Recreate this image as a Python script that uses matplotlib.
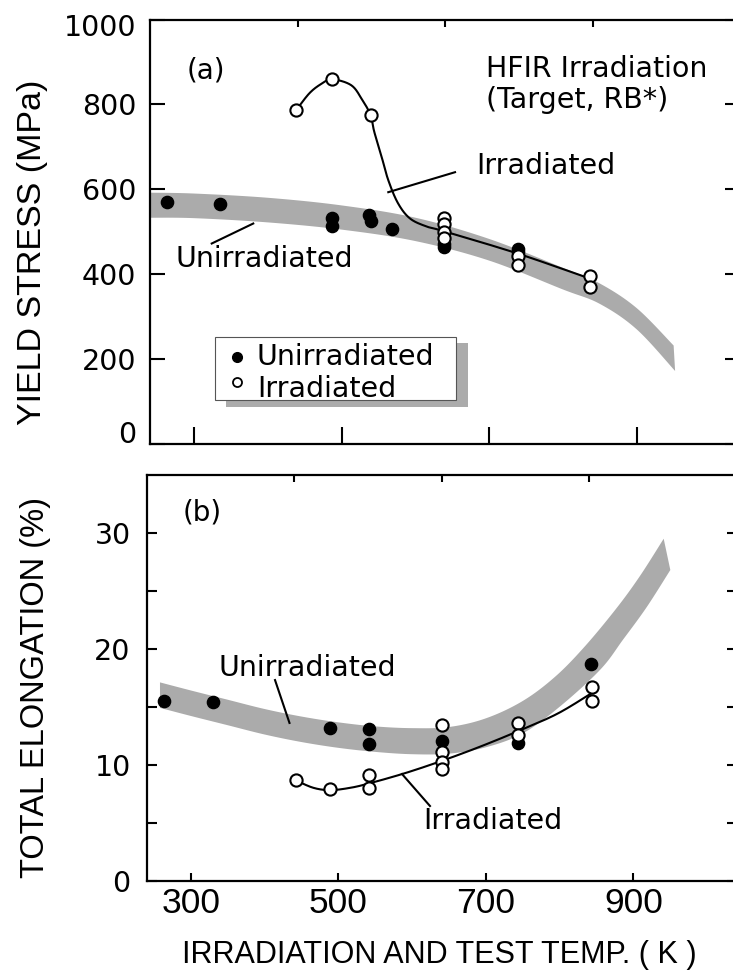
import numpy as np
import matplotlib
matplotlib.use("Agg")
import matplotlib.pyplot as plt
from matplotlib.patches import Rectangle
from matplotlib.ticker import FixedLocator
from matplotlib.transforms import ScaledTranslation

plt.rcParams['font.family'] = ['DejaVu Sans']
NARROW = ['Liberation Sans', 'DejaVu Sans']

# ---------------- data ----------------
temp_ticks = [300, 500, 700, 900]
top_ticks = [440, 640, 840]

# (a) yield stress (MPa)
ys_unirr_T = [263, 335, 487, 487, 537, 539, 568, 638, 638, 739, 739]
ys_unirr_V = [569, 566, 533, 514, 539, 525, 506, 470, 464, 459, 452]
ys_irr_T = [438, 487, 539, 638, 638, 638, 638, 739, 739, 836, 836]
ys_irr_V = [786, 859, 775, 533, 518, 500, 486, 442, 421, 395, 369]
ys_fit_T = [438, 456, 472, 487, 513, 528, 539, 544, 554, 563, 576, 592, 614, 639, 738, 836]
ys_fit_V = [786, 826, 848, 859, 845, 810, 775, 736, 677, 622, 568, 532, 513, 501, 449, 390]
ys_band_T = [240, 300, 400, 500, 600, 700, 800, 850, 900, 950]
ys_band_hi = [592, 590, 580, 562, 533, 483, 415, 378, 320, 232]
ys_band_lo = [533, 532, 522, 505, 478, 432, 364, 330, 270, 172]

# (b) total elongation (%)
te_unirr_T = [264, 330, 489, 541, 541, 640, 744, 843]
te_unirr_E = [15.5, 15.4, 13.15, 13.1, 11.8, 12.0, 11.9, 18.7]
te_irr_T = [442, 489, 541, 541, 640, 640, 640, 640, 744, 744, 844, 844]
te_irr_E = [8.65, 7.9, 9.07, 8.0, 13.4, 11.1, 10.2, 9.6, 13.6, 12.6, 16.7, 15.5]
te_fit_T = [442, 466, 489, 516, 541, 589, 639, 690, 744, 797, 844]
te_fit_E = [8.65, 8.0, 7.8, 8.0, 8.37, 9.24, 10.3, 11.5, 12.9, 14.4, 16.2]
te_band_hi_T = [258, 300, 350, 400, 450, 500, 550, 600, 650, 700, 750, 794, 834, 877, 909, 941]
te_band_hi = [17.1, 16.4, 15.6, 14.8, 14.15, 13.65, 13.3, 13.15, 13.25, 14.0, 15.5, 17.6, 20.2, 23.5, 26.3, 29.5]
te_band_lo_T = [258, 300, 350, 400, 450, 500, 550, 600, 650, 700, 750, 800, 855, 886, 918, 950]
te_band_lo = [14.9, 14.2, 13.4, 12.6, 11.95, 11.45, 11.1, 10.9, 10.95, 11.5, 12.7, 15.0, 18.2, 20.8, 23.6, 26.8]

BAND = '#ababab'


def catmull(xs, ys, n=24):
    P = np.column_stack([xs, ys]).astype(float)
    P = np.vstack([P[0], P, P[-1]])
    out = []
    t = np.linspace(0, 1, n, endpoint=False)[:, None]
    for i in range(1, len(P) - 2):
        p0, p1, p2, p3 = P[i - 1], P[i], P[i + 1], P[i + 2]
        pts = 0.5 * ((2 * p1) + (-p0 + p2) * t + (2 * p0 - 5 * p1 + 4 * p2 - p3) * t ** 2
                     + (-p0 + 3 * p1 - 3 * p2 + p3) * t ** 3)
        out.append(pts)
    out.append(P[-2][None, :])
    R = np.vstack(out)
    return R[:, 0], R[:, 1]


def band(ax, Tu, U, Tl, L):
    xu, yu = catmull(Tu, U)
    xl, yl = catmull(Tl, L)
    ax.fill(np.concatenate([xu, xl[::-1]]), np.concatenate([yu, yl[::-1]]),
            color=BAND, lw=0, zorder=1)


fig = plt.figure(figsize=(7.33, 9.76), dpi=100)
ax1 = fig.add_axes([150 / 733, 1 - 444 / 976, 590 / 733, 424.5 / 976])
ax2 = fig.add_axes([146.7 / 733, 1 - 880.5 / 976, 590 / 733, 405.5 / 976])

mk = dict(ms=8.8, ls='none', zorder=5)

# ----- panel (a) -----
band(ax1, ys_band_T, ys_band_hi, ys_band_T[:-1] + [952], ys_band_lo)
fx, fy = catmull(ys_fit_T, ys_fit_V)
ax1.plot(fx, fy, color='k', lw=1.5, zorder=3)
ax1.plot(ys_unirr_T, ys_unirr_V, marker='o', color='k', **mk)
ax1.plot(ys_irr_T, ys_irr_V, marker='o', mfc='white', mec='k', mew=1.5, **mk)
ax1.set_ylim(0, 1000)
ax1.yaxis.set_major_locator(FixedLocator([0, 200, 400, 600, 800, 1000]))

ax1.text(290, 861, '(a)', fontsize=20, ha='left', va='baseline')
ax1.text(695.6, 864.6, 'HFIR Irradiation', fontsize=20.5, ha='left', va='baseline')
ax1.text(695.6, 792, '(Target, RB*)', fontsize=20.5, ha='left', va='baseline')
ax1.text(683, 637, 'Irradiated', fontsize=20.5, ha='left', va='baseline')
ax1.plot([653.6, 563.1], [640.3, 593.2], color='k', lw=1.5, zorder=4)
ax1.text(273.9, 417.4, 'Unirradiated', fontsize=20.5, ha='left', va='baseline')
ax1.plot([323.7, 380], [472.3, 519.4], color='k', lw=1.5, zorder=4)

# legend (hand-built, with dropped shadow)
ax1.add_patch(Rectangle((0.1288, 0.0872), 0.4102, 0.1507, transform=ax1.transAxes,
                        color=BAND, lw=0, zorder=6))
ax1.add_patch(Rectangle((0.1102, 0.1037), 0.4084, 0.1484, transform=ax1.transAxes,
                        fc='white', ec='#555555', lw=0.8, zorder=7))
ax1.plot([0.147], [0.2057], marker='o', ms=7, color='k', ls='none',
         transform=ax1.transAxes, zorder=8)
ax1.plot([0.147], [0.1468], marker='o', ms=6.5, mfc='white', mec='k', mew=1.3, ls='none',
         transform=ax1.transAxes, zorder=8)
ax1.text(0.181, 0.2372, 'Unirradiated\nIrradiated', transform=ax1.transAxes,
         fontsize=20.5, va='top', ha='left', linespacing=1.15, zorder=8)

# ----- panel (b) -----
band(ax2, te_band_hi_T, te_band_hi, te_band_lo_T, te_band_lo)
fx, fy = catmull(te_fit_T, te_fit_E)
ax2.plot(fx, fy, color='k', lw=1.5, zorder=3)
ax2.plot(te_unirr_T, te_unirr_E, marker='o', color='k', **mk)
ax2.plot(te_irr_T, te_irr_E, marker='o', mfc='white', mec='k', mew=1.5, **mk)
ax2.set_ylim(0, 35)
ax2.yaxis.set_major_locator(FixedLocator([0, 10, 20, 30]))
ax2.yaxis.set_minor_locator(FixedLocator([5, 15, 25]))

ax2.text(289, 31.03, '(b)', fontsize=20, ha='left', va='baseline')
ax2.text(337, 17.65, 'Unirradiated', fontsize=20.5, ha='left', va='baseline')
ax2.plot([414, 433.6], [17.3, 13.6], color='k', lw=1.5, zorder=4)
ax2.text(614.6, 4.45, 'Irradiated', fontsize=20.5, ha='left', va='baseline')
ax2.plot([586.2, 624.1], [9.19, 6.43], color='k', lw=1.5, zorder=4)

# ----- axes styling -----
for ax, ylen, blen, ypad in ((ax1, 11, 12, 10), (ax2, 7.5, 6, 11.5)):
    for s in ax.spines.values():
        s.set_linewidth(1.6)
    ax.set_xlim(240, 1040)
    ax.xaxis.set_major_locator(FixedLocator(temp_ticks))
    ax.xaxis.set_minor_locator(FixedLocator(top_ticks))
    ax.tick_params(axis='x', which='major', direction='in', length=blen, width=1.5,
                   bottom=True, top=False)
    ax.tick_params(axis='x', which='minor', direction='in', length=5, width=1.5,
                   bottom=False, top=True, labelbottom=False)
    ax.tick_params(axis='y', which='both', direction='in', length=ylen, width=1.5,
                   left=True, right=True, labelsize=20.5, pad=ypad)

ax1.tick_params(axis='x', which='major', labelbottom=False)
ax2.tick_params(axis='x', which='major', labelbottom=True, pad=5)
for lab in ax2.get_xticklabels():
    lab.set_fontfamily(NARROW)
    lab.set_fontsize(25.5)

# nudge the end labels of panel (a) inward, as in the original
yt = ax1.yaxis.get_major_ticks()
yt[0].label1.set_transform(yt[0].label1.get_transform()
                           + ScaledTranslation(0, 12 / 100, fig.dpi_scale_trans))
yt[-1].label1.set_transform(yt[-1].label1.get_transform()
                            + ScaledTranslation(0, -6 / 100, fig.dpi_scale_trans))

fig.text(33 / 733, 1 - 252 / 976, 'YIELD STRESS (MPa)', rotation=90, ha='center',
         va='center', fontsize=24.5, family=NARROW)
fig.text(36 / 733, 1 - 688 / 976, 'TOTAL ELONGATION (%)', rotation=90, ha='center',
         va='center', fontsize=23.5, family=NARROW)
fig.text(439 / 733, 1 - 963 / 976, 'IRRADIATION AND TEST TEMP. ( K )', ha='center',
         va='baseline', fontsize=22, family=NARROW)

fig.savefig('out.png', dpi=100)
